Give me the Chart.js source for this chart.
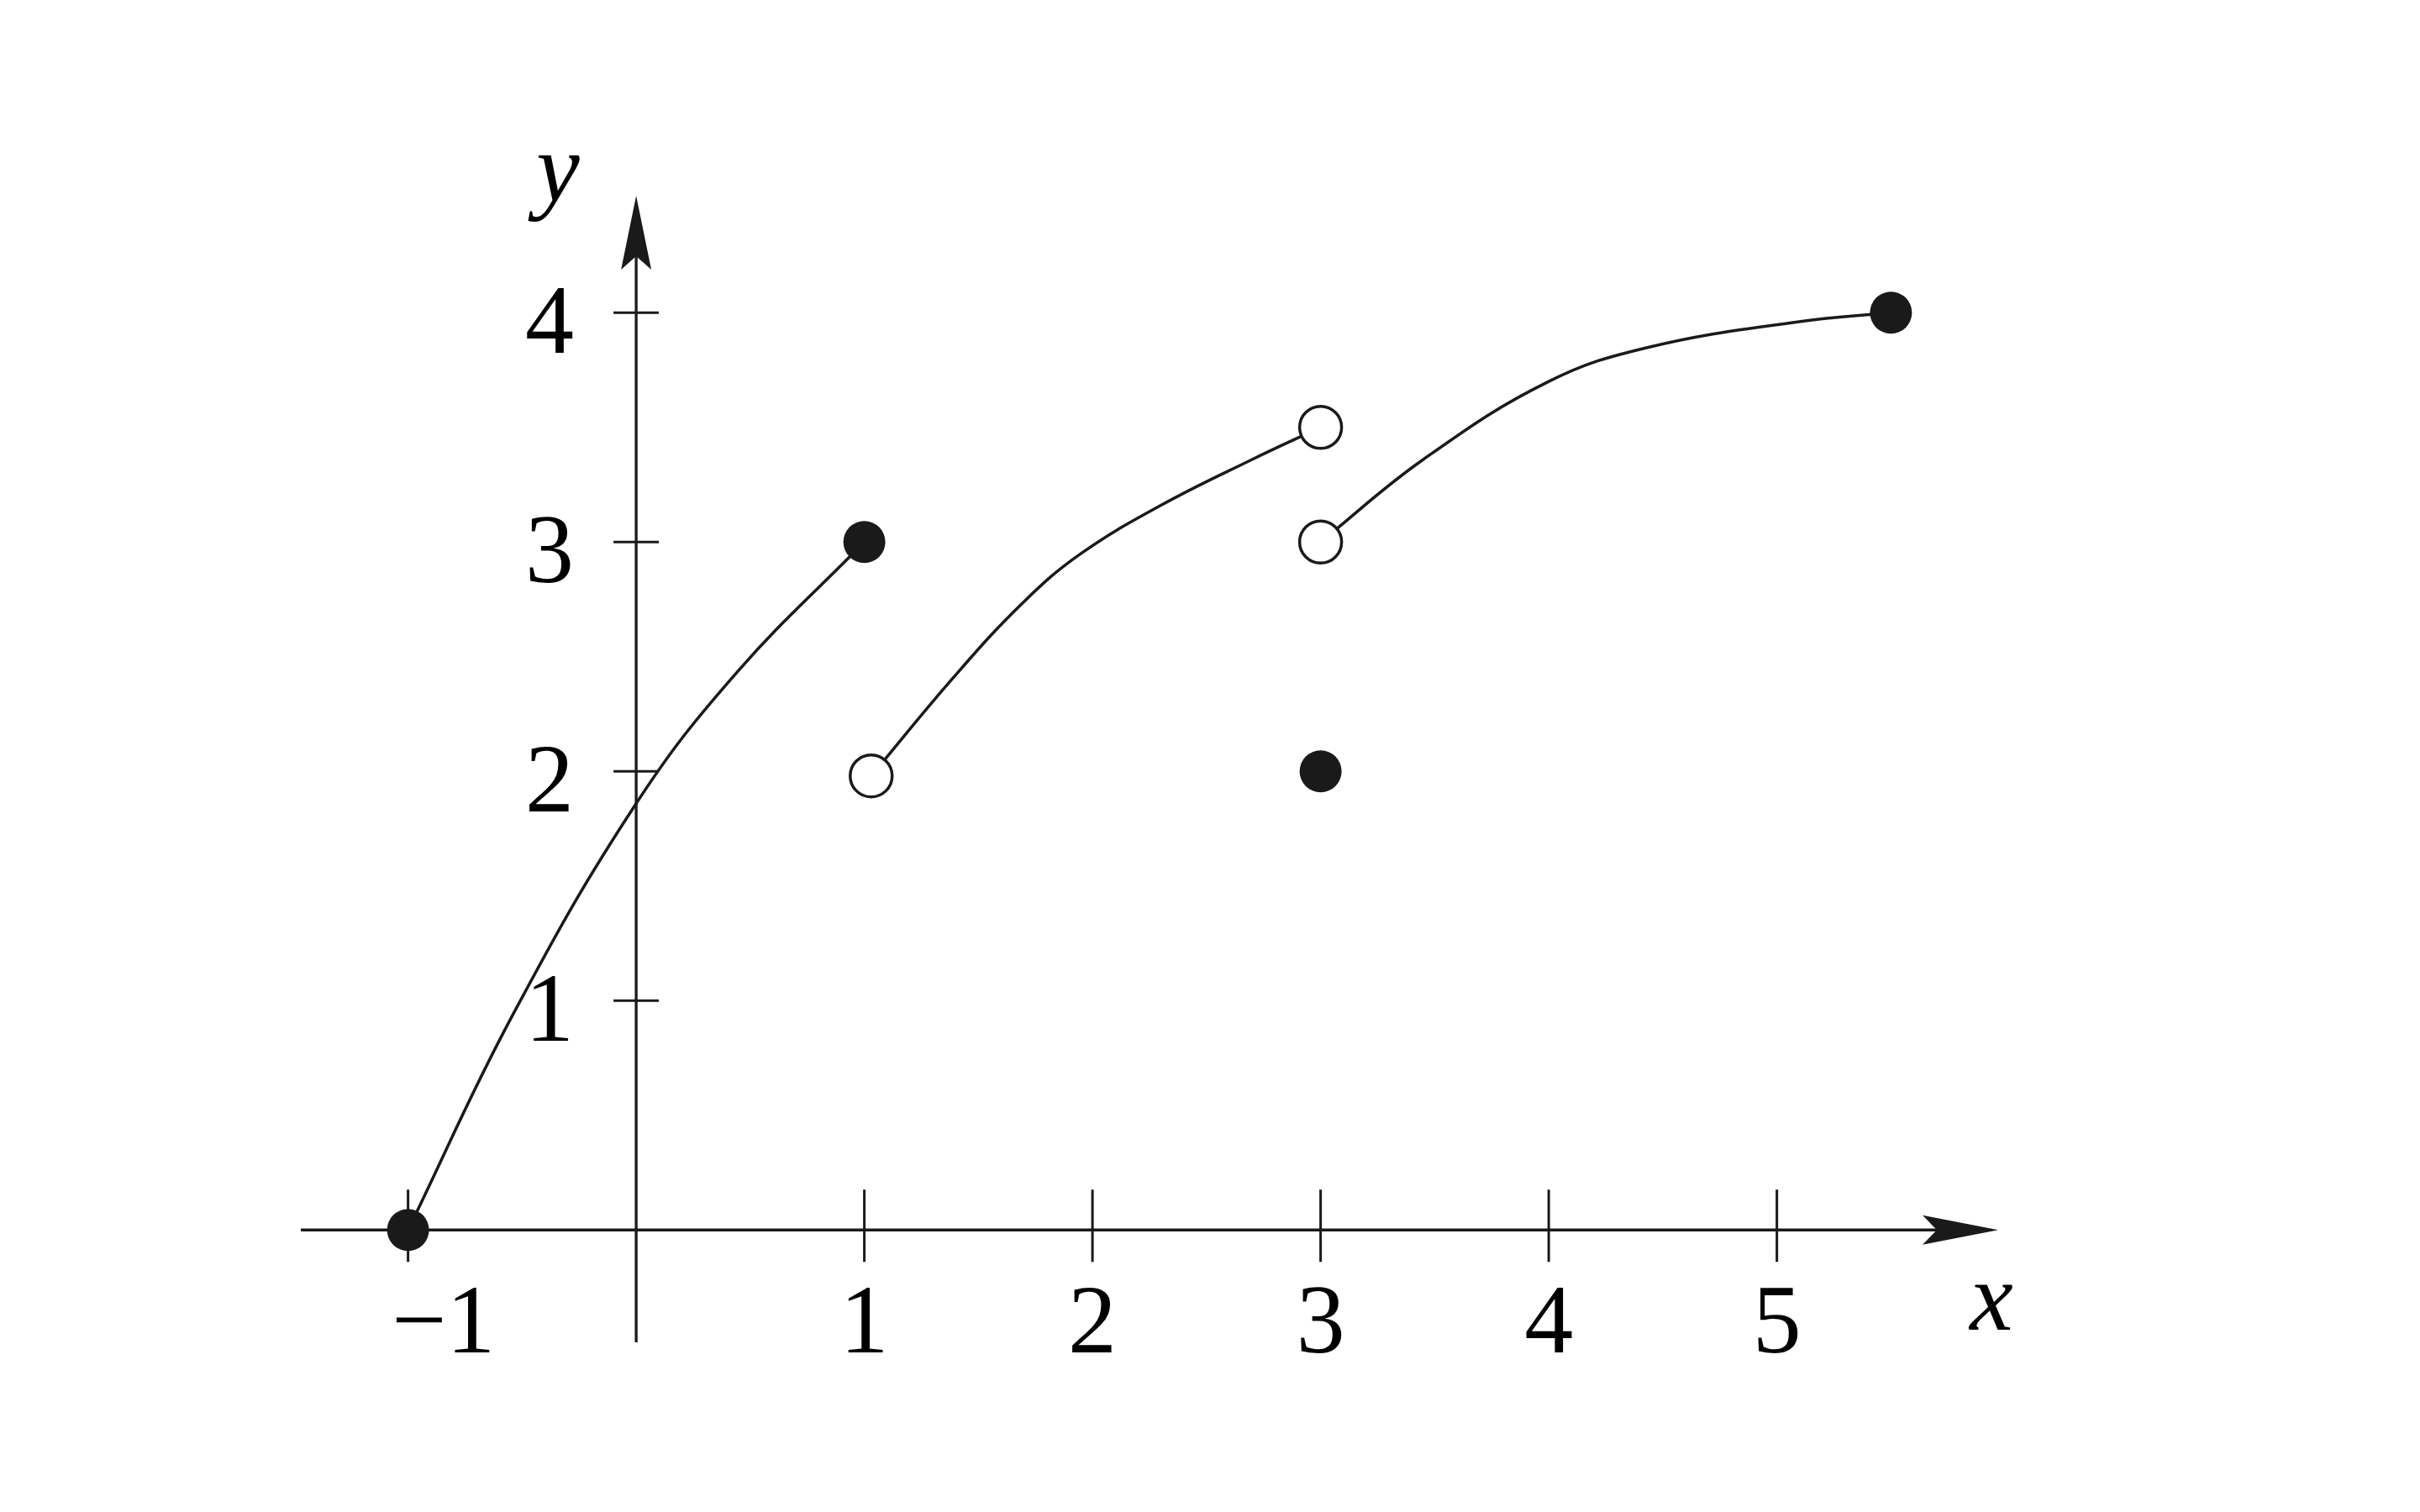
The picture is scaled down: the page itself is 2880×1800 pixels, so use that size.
<!DOCTYPE html>
<html>
<head>
<meta charset="utf-8">
<script src="https://cdn.jsdelivr.net/npm/chart.js@4.4.1/dist/chart.umd.min.js"></script>
<style>
  html, body { margin: 0; padding: 0; background: #ffffff; }
  #wrap { width: 2880px; height: 1800px; position: relative; }
</style>
</head>
<body>
<div id="wrap"><canvas id="myChart"></canvas></div>
<script>
// curve pieces
const seg1X = [-1, -0.54, 0, 0.44, 1];
const seg1Y = [0, 0.94, 1.86, 2.43, 3];

const seg2X = [1.03, 1.40, 1.70, 1.95, 2.30, 2.70, 3];
const seg2Y = [1.98, 2.42, 2.74, 2.95, 3.16, 3.36, 3.5];

const seg3X = [3, 3.45, 4.0, 4.44, 5.09, 5.5];
const seg3Y = [3.0, 3.36, 3.70, 3.85, 3.96, 4.0];

// filled and open dots
const filledX = [-1, 1, 3, 5.5];
const filledY = [0, 3, 2, 4];
const openX = [1.03, 3, 3];
const openY = [1.98, 3.5, 3];

// tick labels
const xTicks = [-1, 1, 2, 3, 4, 5];
const xTickLabels = ["\u22121", "1", "2", "3", "4", "5"];
const yTicks = [1, 2, 3, 4];
const yTickLabels = ["1", "2", "3", "4"];

// axis extents (data units)
const xMin = -1.47, xMax = 5.97;
const yMin = -0.49, yMax = 4.51;

const ink = "#1a1a1a";
const serif = "'Liberation Serif', 'DejaVu Serif', serif";

function pts(xs, ys){
    let out = [];
    for (let i = 0; i < xs.length; i++){
        out.push({x: xs[i], y: ys[i]});
    }
    return out;
}

function lineSet(xs, ys){
    return {
        data: pts(xs, ys),
        borderColor: ink,
        borderWidth: 3.5,
        pointRadius: 0,
        fill: false,
        tension: 0.4,
        showLine: true,
        order: 1
    };
}

// axes with arrows, ticks and labels, drawn from the scales
const axesPlugin = {
    id: 'axes',
    beforeDatasetsDraw(chart){
        let ctx = chart.ctx;
        let xs = chart.scales.x;
        let ys = chart.scales.y;
        let x0 = xs.getPixelForValue(0);
        let y0 = ys.getPixelForValue(0);
        let left = xs.getPixelForValue(xMin);
        let right = xs.getPixelForValue(xMax);
        let top = ys.getPixelForValue(yMax);
        let bottom = ys.getPixelForValue(yMin);

        ctx.save();
        ctx.strokeStyle = ink;
        ctx.fillStyle = ink;
        ctx.lineWidth = 3.3;

        // x axis
        ctx.beginPath();
        ctx.moveTo(left, y0);
        ctx.lineTo(right - 70, y0);
        ctx.stroke();
        ctx.beginPath();
        ctx.moveTo(right, y0);
        ctx.lineTo(right - 90, y0 - 17.5);
        ctx.lineTo(right - 73, y0);
        ctx.lineTo(right - 90, y0 + 17.5);
        ctx.closePath();
        ctx.fill();

        // y axis
        ctx.beginPath();
        ctx.moveTo(x0, bottom);
        ctx.lineTo(x0, top + 70);
        ctx.stroke();
        ctx.beginPath();
        ctx.moveTo(x0, top);
        ctx.lineTo(x0 - 18, top + 88);
        ctx.lineTo(x0, top + 72);
        ctx.lineTo(x0 + 18, top + 88);
        ctx.closePath();
        ctx.fill();

        // ticks
        ctx.lineWidth = 3;
        xTicks.forEach((v) => {
            let px = xs.getPixelForValue(v);
            ctx.beginPath();
            ctx.moveTo(px, y0 - 48);
            ctx.lineTo(px, y0 + 38);
            ctx.stroke();
        });
        yTicks.forEach((v) => {
            let py = ys.getPixelForValue(v);
            ctx.beginPath();
            ctx.moveTo(x0 - 27, py);
            ctx.lineTo(x0 + 27, py);
            ctx.stroke();
        });

        // tick labels
        ctx.fillStyle = "#000000";
        ctx.font = "116px " + serif;
        ctx.textAlign = "center";
        ctx.textBaseline = "alphabetic";
        xTicks.forEach((v, i) => {
            let px = xs.getPixelForValue(v);
            if (v < 0) px += 42;
            ctx.fillText(xTickLabels[i], px, y0 + 146);
        });
        yTicks.forEach((v, i) => {
            let py = ys.getPixelForValue(v);
            ctx.fillText(yTickLabels[i], x0 - 103, py + 48);
        });

        // axis names
        ctx.font = "italic 116px " + serif;
        ctx.fillText("y", x0 - 93, top + 6);
        ctx.fillText("x", right - 8, y0 + 119);
        ctx.restore();
    }
};

let chec = document.getElementById('myChart');
let c = chec.getContext('2d');

let myChart = new Chart(c, {
    type: 'scatter',
    data: {
        datasets: [
            lineSet(seg1X, seg1Y),
            lineSet(seg2X, seg2Y),
            lineSet(seg3X, seg3Y),
            {
                data: pts(filledX, filledY),
                pointRadius: 25,
                pointBackgroundColor: ink,
                pointBorderWidth: 0,
                showLine: false,
                order: 0
            },
            {
                data: pts(openX, openY),
                pointRadius: 25,
                pointBackgroundColor: "#ffffff",
                pointBorderColor: ink,
                pointBorderWidth: 3.5,
                showLine: false,
                order: 0
            }
        ]
    },
    options: {
        responsive: true,
        maintainAspectRatio: false,
        animation: false,
        layout: { padding: { left: 358, right: 502, top: 233, bottom: 202 } },
        plugins: { legend: { display: false }, tooltip: { enabled: false } },
        scales: {
            x: { type: 'linear', min: xMin, max: xMax, display: false },
            y: { type: 'linear', min: yMin, max: yMax, display: false }
        }
    },
    plugins: [axesPlugin]
});
</script>
</body>
</html>
